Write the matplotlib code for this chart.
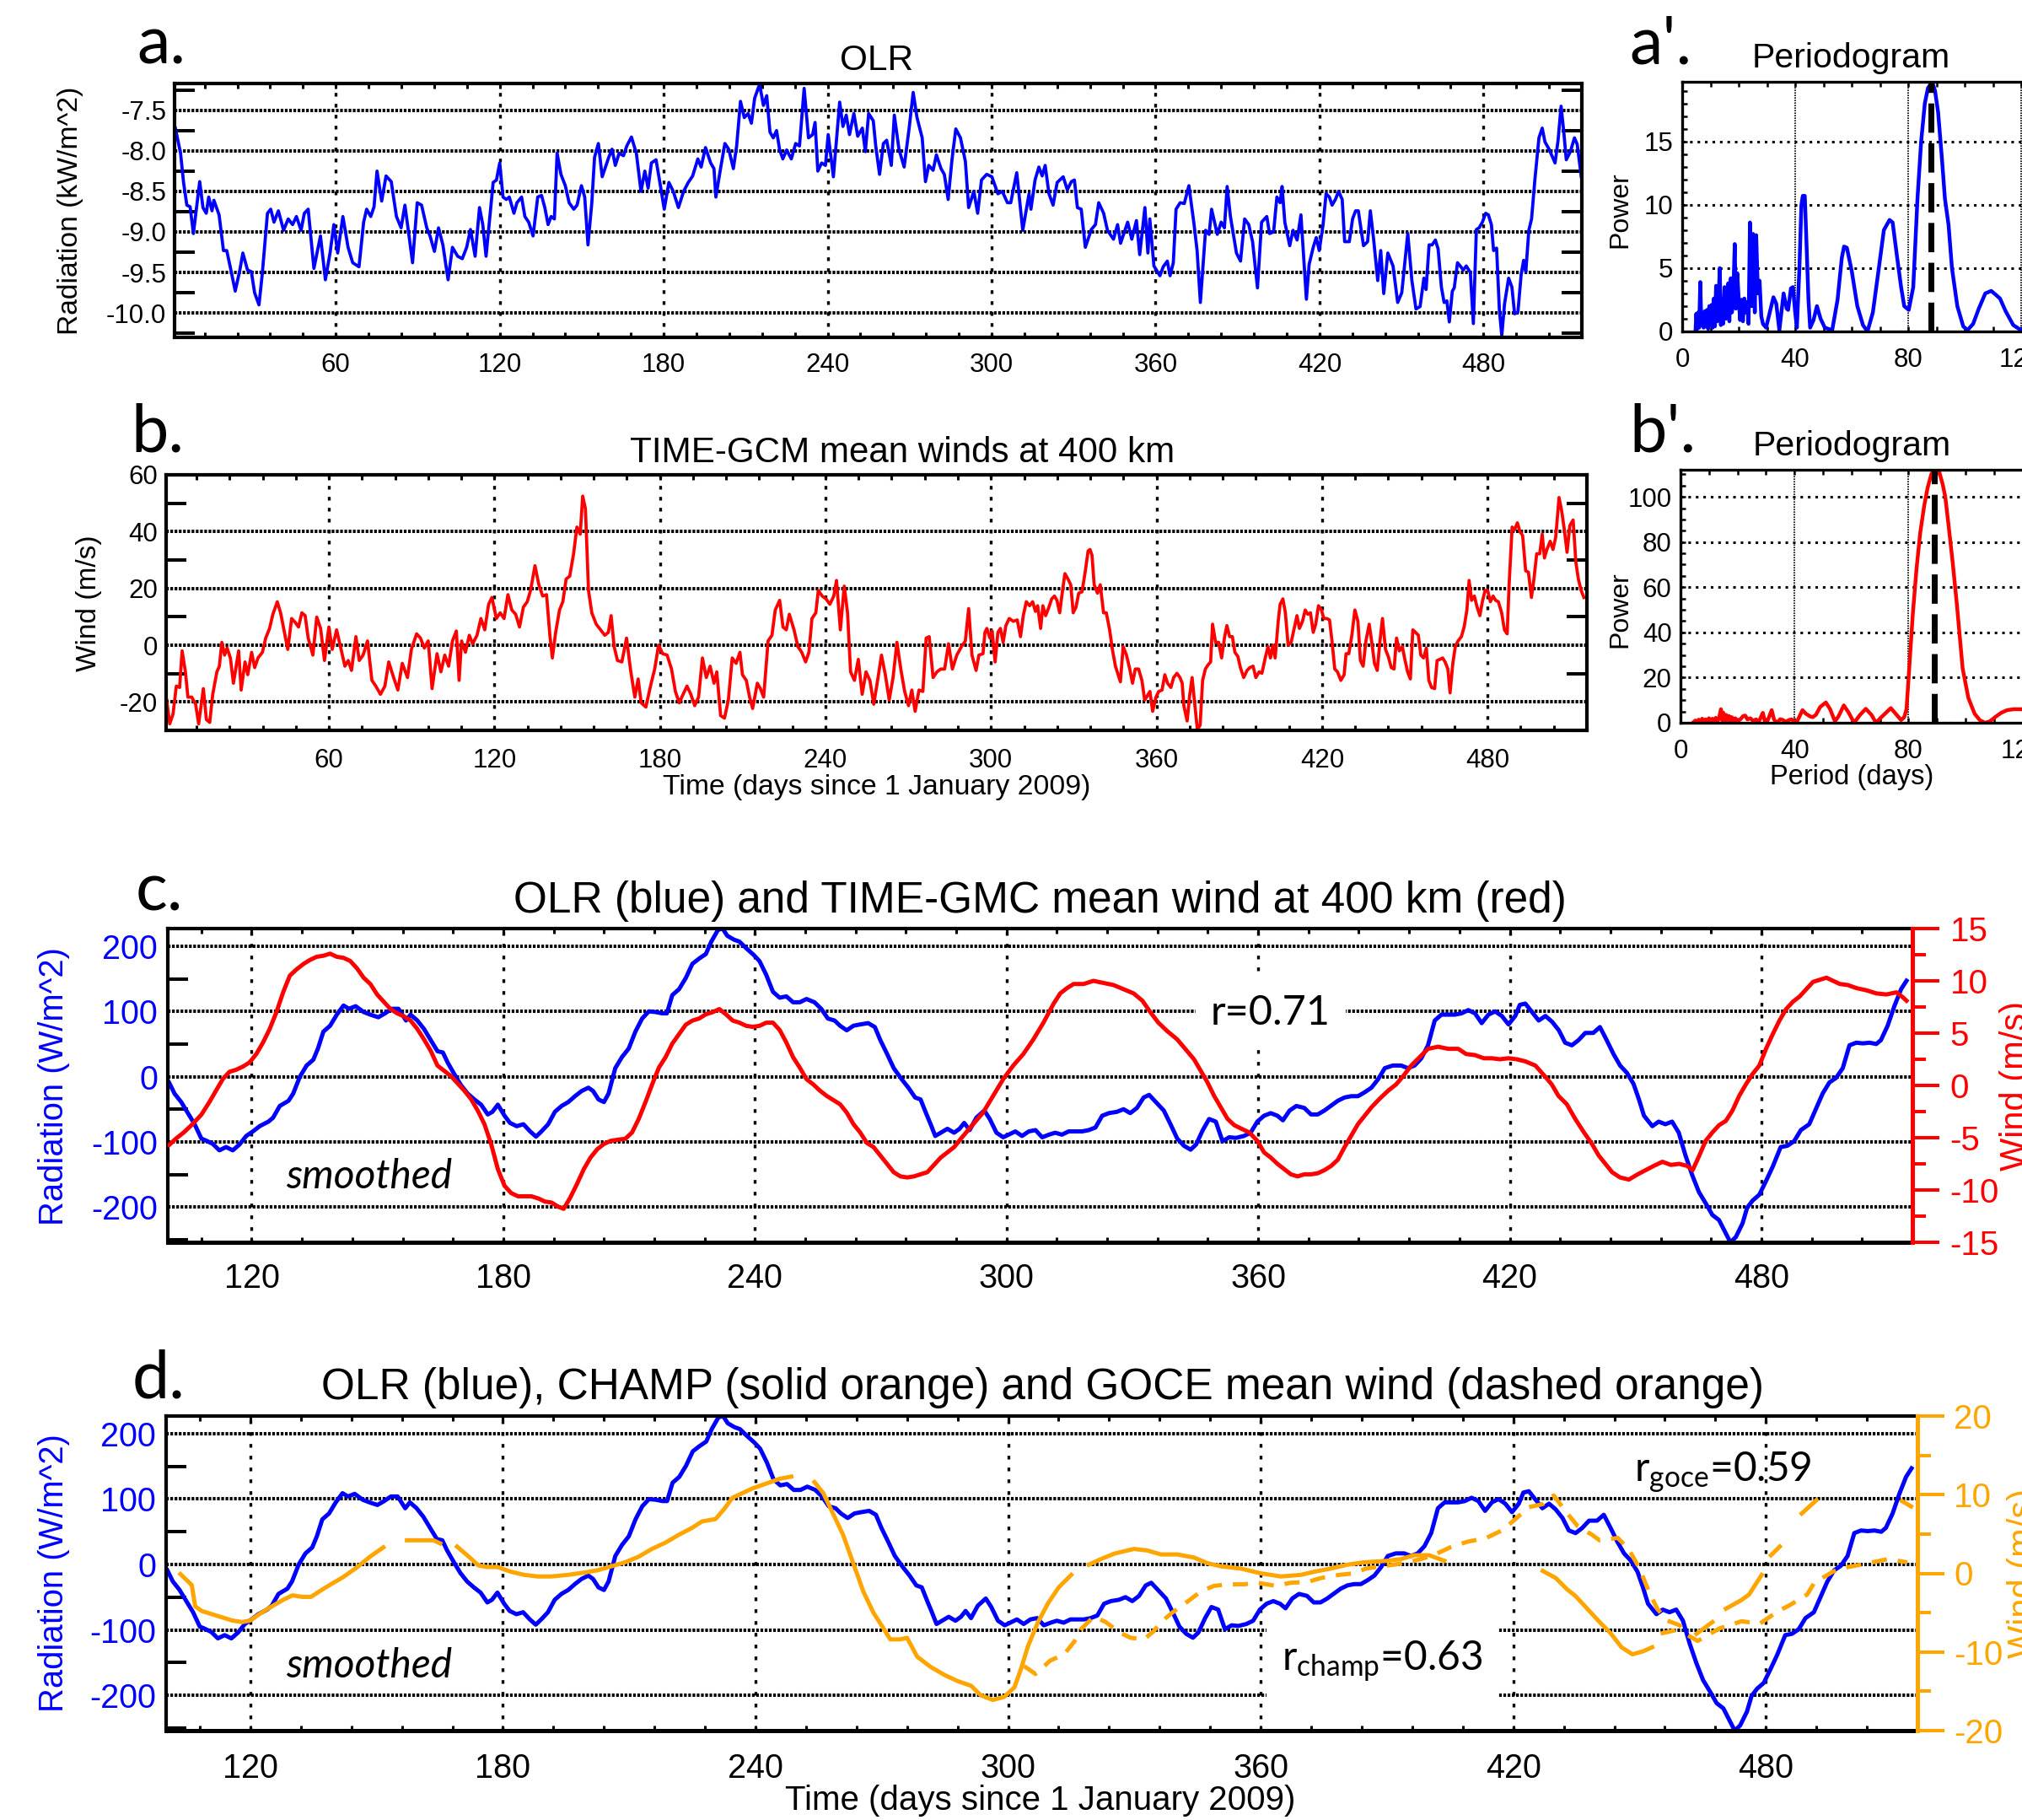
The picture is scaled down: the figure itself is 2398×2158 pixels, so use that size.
import numpy as np
import matplotlib
matplotlib.use("Agg")
import matplotlib.pyplot as plt
from matplotlib.ticker import FixedLocator, MultipleLocator

W, H = 2398, 2158
plt.rcParams['font.family'] = ['Liberation Sans', 'DejaVu Sans']
plt.rcParams['axes.unicode_minus'] = False
plt.rcParams['mathtext.fontset'] = 'custom'
plt.rcParams['mathtext.rm'] = 'Lato'
plt.rcParams['mathtext.it'] = 'Lato:italic'

BLUE, RED, ORANGE = '#0000ff', '#ff0000', '#ffa500'
NAN = np.nan

# ---------------- data ----------------
# a. daily OLR (kW/m^2), (day, value)
olr_daily = [
    (1.3, -7.72), (3.2, -8.03), (4.3, -8.39), (5.5, -8.67), (6.7, -8.69), (7.9, -9.02), (8.8, -8.77),
    (10.2, -8.38), (11.4, -8.70), (12.6, -8.77), (13.5, -8.57), (14.7, -8.74), (15.4, -8.61), (17.3, -8.79),
    (18.9, -9.23), (20.1, -9.23), (21.5, -9.45), (23.2, -9.73), (24.9, -9.47), (26.0, -9.26), (27.7, -9.47),
    (29.1, -9.49), (30.3, -9.75), (31.9, -9.90), (33.1, -9.52), (35.0, -8.77), (36.2, -8.72), (37.4, -8.88),
    (39.0, -8.74), (40.9, -8.98), (42.6, -8.84), (44.2, -8.91), (45.6, -8.81), (47.3, -8.98), (48.5, -8.77),
    (49.9, -8.72), (52.0, -9.45), (54.4, -9.05), (56.2, -9.59), (57.9, -9.26), (59.3, -8.91), (60.7, -9.26),
    (62.6, -8.81), (64.5, -9.19), (66.2, -9.38), (68.5, -9.43), (70.2, -8.88), (71.3, -8.72), (72.8, -8.81),
    (74.0, -8.69), (75.1, -8.25), (76.8, -8.62), (78.4, -8.31), (80.3, -8.38), (82.2, -8.81), (83.9, -8.95),
    (85.3, -8.67), (86.7, -9.02), (88.1, -9.38), (89.8, -8.64), (91.4, -8.67), (93.3, -8.95), (94.5, -9.05),
    (96.1, -9.24), (97.6, -8.95), (99.2, -9.16), (101.1, -9.59), (102.7, -9.19), (104.6, -9.30), (106.3, -9.33),
    (107.9, -9.19), (109.3, -8.97), (111.0, -9.30), (112.6, -8.70), (113.8, -8.91), (115.0, -9.30), (116.4, -8.81),
    (117.6, -8.39), (118.8, -8.36), (120.0, -8.15), (121.2, -8.57), (122.4, -8.60), (123.5, -8.57), (125.2, -8.77),
    (126.3, -8.64), (128.0, -8.57), (129.2, -8.81), (130.6, -8.88), (132.2, -9.05), (133.9, -8.57), (135.3, -8.55),
    (136.5, -8.70), (137.7, -8.91), (138.8, -8.81), (140.0, -8.84), (141.0, -8.03), (142.4, -8.29), (144.0, -8.43),
    (145.4, -8.64), (147.1, -8.72), (148.3, -8.67), (149.9, -8.43), (151.1, -8.57), (152.3, -9.16), (153.7, -8.64),
    (154.7, -8.08), (156.1, -7.91), (157.5, -8.32), (158.7, -8.20), (159.9, -8.08), (161.1, -7.98), (162.3, -8.18),
    (163.7, -8.03), (165.3, -8.06), (166.5, -7.94), (168.2, -7.83), (170.0, -8.03), (171.7, -8.50), (173.1, -8.25),
    (174.3, -8.46), (175.5, -8.15), (177.2, -8.11), (178.8, -8.43), (180.2, -8.72), (181.9, -8.39), (183.5, -8.50),
    (185.4, -8.70), (187.3, -8.50), (189.0, -8.39), (190.6, -8.31), (192.5, -8.10), (193.7, -8.20), (195.3, -7.96),
    (197.2, -8.15), (198.4, -8.22), (199.1, -8.57), (200.8, -8.22), (202.4, -7.91), (203.8, -7.98), (205.5, -8.22),
    (206.7, -7.94), (208.1, -7.39), (209.5, -7.59), (210.9, -7.54), (212.1, -7.66), (213.3, -7.35), (215.1, -7.18),
    (216.5, -7.44), (217.7, -7.32), (218.9, -7.77), (220.1, -7.84), (221.3, -7.75), (222.4, -7.98), (223.6, -8.10),
    (225.0, -7.99), (226.7, -8.10), (228.3, -7.91), (229.7, -7.94), (231.4, -7.23), (233.0, -7.84), (234.5, -7.80),
    (235.4, -7.65), (236.4, -8.25), (237.8, -8.15), (239.2, -8.18), (240.2, -7.80), (242.1, -8.32), (244.4, -7.40),
    (245.6, -7.70), (246.8, -7.56), (248.0, -7.80), (249.6, -7.54), (251.0, -7.82), (252.7, -7.72), (253.8, -8.01),
    (255.0, -7.54), (256.7, -7.63), (257.6, -7.94), (259.0, -8.29), (260.4, -7.91), (261.6, -7.87), (263.3, -8.18),
    (264.4, -7.56), (266.1, -7.98), (268.0, -8.20), (269.9, -7.70), (271.3, -7.28), (272.7, -7.59), (274.6, -7.84),
    (275.8, -8.38), (277.0, -8.18), (278.6, -8.24), (279.8, -8.05), (281.5, -8.22), (282.7, -8.29), (284.1, -8.60),
    (285.5, -8.11), (286.9, -7.73), (288.6, -7.84), (290.4, -8.13), (291.6, -8.70), (293.5, -8.50), (294.9, -8.77),
    (296.3, -8.36), (298.2, -8.29), (300.1, -8.32), (302.3, -8.53), (303.9, -8.50), (305.8, -8.64), (307.0, -8.64),
    (309.2, -8.27), (311.4, -8.98), (313.7, -8.53), (314.4, -8.72), (315.9, -8.36), (317.3, -8.20), (318.5, -8.31),
    (319.6, -8.18), (321.0, -8.53), (322.5, -8.67), (324.0, -8.39), (326.2, -8.32), (327.7, -8.48), (329.2, -8.38),
    (330.3, -8.36), (331.4, -8.70), (332.8, -8.72), (334.3, -9.19), (336.5, -8.97), (338.0, -8.91), (339.2, -8.64),
    (341.0, -8.77), (342.4, -8.98), (344.6, -9.09), (346.1, -8.91), (347.2, -9.14), (349.8, -8.88), (351.3, -9.09),
    (353.0, -8.86), (354.2, -9.28), (356.1, -8.70), (357.2, -9.26), (357.9, -8.84), (359.4, -9.42), (361.6, -9.54),
    (362.8, -9.43), (364.3, -9.36), (365.3, -9.54), (366.5, -9.38), (367.5, -8.72), (369.0, -8.64), (370.5, -8.65),
    (372.2, -8.43), (374.1, -8.91), (375.2, -9.23), (376.4, -9.87), (378.3, -8.98), (379.6, -9.03), (380.5, -8.72),
    (382.6, -9.03), (384.0, -8.88), (385.2, -8.95), (386.2, -8.44), (387.4, -8.81), (389.6, -9.26), (391.1, -9.36),
    (392.6, -8.84), (394.1, -8.91), (395.5, -9.12), (397.3, -9.69), (398.8, -8.88), (400.7, -8.81), (401.7, -9.02),
    (403.2, -9.00), (404.4, -8.57), (405.6, -8.64), (406.3, -8.44), (407.3, -8.88), (409.1, -9.17), (410.3, -8.98),
    (411.8, -9.10), (413.2, -8.79), (415.2, -9.83), (416.2, -9.40), (417.7, -9.19), (418.8, -9.07), (419.9, -9.23),
    (421.3, -8.91), (422.4, -8.53), (423.6, -8.57), (424.6, -8.67), (425.8, -8.60), (427.0, -8.50), (428.3, -8.60),
    (429.2, -9.12), (430.9, -9.12), (432.1, -8.84), (433.2, -8.74), (434.2, -8.74), (436.1, -9.17), (437.6, -9.12),
    (438.6, -8.74), (439.8, -9.09), (441.3, -9.60), (442.4, -9.23), (443.5, -9.76), (445.0, -9.26), (446.9, -9.42),
    (448.6, -9.87), (450.1, -9.75), (452.3, -9.02), (453.8, -9.60), (455.3, -9.95), (456.8, -9.92), (458.2, -9.57),
    (459.0, -9.71), (460.1, -9.16), (461.2, -9.16), (462.4, -9.10), (463.4, -9.21), (464.6, -9.68), (465.6, -9.87),
    (466.6, -9.85), (467.5, -10.11), (468.6, -9.73), (469.3, -9.69), (470.5, -9.38), (471.5, -9.42), (472.6, -9.47),
    (473.7, -9.42), (475.2, -9.50), (476.3, -10.13), (477.4, -8.97), (478.4, -8.95), (479.6, -8.88), (480.8, -8.77),
    (481.8, -8.79), (482.9, -8.91), (483.7, -9.23), (484.8, -9.20), (485.8, -9.95), (486.7, -10.28), (487.7, -9.89),
    (489.2, -9.57), (490.4, -9.68), (491.4, -10.01), (492.6, -9.99), (493.8, -9.52), (494.7, -9.35), (495.5, -9.49),
    (496.6, -8.98), (497.6, -8.84), (498.8, -8.36), (500.3, -7.84), (501.5, -7.72), (502.5, -7.89), (504.0, -7.98),
    (506.2, -8.15), (507.3, -7.87), (508.4, -7.45), (509.4, -7.77), (510.3, -8.11), (511.8, -8.01), (513.3, -7.84),
    (514.3, -7.92), (515.8, -8.32),
]

# b. daily TIME-GCM mean wind at 400 km (m/s)
wind_daily = [
    (1.2, -19.3), (2.3, -27.7), (3.5, -24.3), (4.7, -14.4), (5.9, -14.9), (6.8, -2.0), (8.0, -9.4), (8.9, -18.3),
    (10.3, -18.3), (11.7, -20.8), (12.8, -27.7), (14.5, -15.3), (15.6, -26.2), (16.8, -27.2), (17.9, -17.3),
    (19.4, -9.4), (20.3, -7.4), (21.2, 1.0), (22.2, -3.5), (23.1, -1.0), (24.3, -4.5), (25.4, -13.4), (27.3, -2.0),
    (28.2, -15.8), (29.6, -5.9), (30.6, -10.4), (32.0, -2.5), (33.1, -7.9), (34.3, -4.5), (35.9, -2.5), (37.1, 2.5),
    (38.5, 5.9), (39.7, 10.9), (41.3, 15.3), (42.5, 11.4), (43.7, 5.4), (45.1, -1.5), (46.5, 9.4), (47.9, 7.9),
    (49.0, 6.4), (50.2, 11.4), (51.4, 10.4), (52.5, 2.5), (54.2, -3.5), (55.6, 9.9), (57.0, 5.9), (58.4, -5.4),
    (60.0, 6.4), (61.2, -1.5), (62.8, 5.4), (64.2, -0.5), (65.8, -7.4), (67.0, -5.4), (68.2, -8.9), (69.8, 3.0),
    (71.0, -5.4), (72.4, -3.5), (74.0, 1.5), (75.6, -12.4), (77.0, -14.4), (78.7, -17.3), (80.3, -14.4),
    (81.7, -5.9), (83.3, -10.9), (85.0, -15.8), (86.6, -6.4), (88.5, -11.4), (89.9, -1.5), (91.8, 4.0), (93.2, 2.5),
    (94.6, -1.0), (96.0, 1.5), (97.4, -15.3), (99.2, -3.0), (100.6, -9.4), (102.0, -3.5), (103.4, -7.4),
    (104.8, 1.5), (106.2, 5.0), (107.2, -12.4), (108.1, 1.5), (109.5, -2.5), (110.9, 3.5), (112.1, 0.5),
    (113.7, 3.5), (115.1, 9.4), (116.5, 5.4), (117.9, 14.4), (119.1, 16.8), (120.7, 9.4), (122.1, 11.4),
    (123.5, 9.4), (124.9, 17.8), (126.3, 12.4), (127.7, 10.9), (129.1, 6.4), (130.5, 13.4), (131.9, 15.3),
    (133.1, 19.3), (134.7, 28.0), (136.1, 21.3), (137.5, 17.3), (138.9, 17.8), (140.1, 3.5), (141.0, -4.5),
    (142.2, 4.5), (143.6, 12.4), (144.8, 15.3), (146.0, 23.3), (147.3, 24.3), (148.7, 32.2), (149.9, 41.6),
    (151.1, 39.1), (152.0, 52.5), (153.0, 48.0), (154.1, 19.3), (155.3, 11.4), (156.9, 7.4), (158.5, 5.4),
    (160.0, 3.5), (161.3, 4.5), (162.3, 10.4), (163.4, -0.5), (164.6, -5.4), (166.2, -5.9), (167.9, 2.5),
    (169.3, -8.4), (170.9, -18.3), (172.1, -11.9), (173.2, -20.3), (174.9, -21.8), (176.7, -13.9), (178.1, -8.4),
    (179.5, 0.0), (181.0, -3.0), (182.6, -3.5), (184.2, -8.4), (185.6, -16.3), (187.0, -20.3), (188.4, -17.3),
    (189.8, -14.4), (191.2, -17.3), (192.6, -21.3), (194.0, -18.3), (195.4, -4.5), (196.8, -11.4), (198.2, -7.4),
    (199.6, -13.4), (200.6, -9.4), (202.0, -24.8), (203.4, -25.7), (204.8, -19.3), (206.2, -4.5), (207.6, -6.4),
    (209.0, -2.5), (209.9, -10.4), (211.3, -12.4), (212.5, -18.3), (213.6, -22.3), (215.3, -13.4), (216.4, -15.3),
    (217.6, -18.3), (219.2, 1.5), (220.6, 3.5), (221.8, 12.4), (223.4, 15.8), (224.6, 6.4), (225.8, 5.4),
    (226.9, 10.9), (228.6, 5.4), (230.0, -0.5), (231.4, -2.5), (232.8, -5.9), (234.0, -2.5), (235.1, 9.4),
    (236.5, 11.4), (237.4, 19.3), (238.8, 17.3), (240.2, 16.3), (241.6, 14.4), (243.0, 17.3), (244.0, 22.8),
    (245.4, 5.4), (246.8, 20.8), (248.0, 11.4), (249.1, -9.4), (250.5, -12.4), (251.9, -5.0), (253.3, -17.3),
    (254.7, -9.4), (256.1, -12.4), (257.5, -20.8), (258.9, -12.4), (260.3, -3.5), (261.7, -10.4), (263.1, -19.3),
    (264.5, -11.4), (265.9, 1.0), (267.3, -8.4), (268.7, -16.3), (270.1, -21.3), (271.3, -15.8), (272.5, -23.3),
    (273.9, -15.8), (275.3, -16.3), (276.5, 2.5), (277.6, 3.0), (279.0, -11.4), (280.4, -9.4), (281.8, -8.4),
    (283.2, -8.4), (284.6, 0.5), (286.0, -8.4), (287.6, -3.5), (289.3, -0.5), (290.7, 1.5), (291.9, 12.9),
    (293.1, -3.5), (294.6, -8.9), (295.6, -3.5), (297.1, -3.0), (297.8, 4.5), (298.5, 5.9), (299.6, 2.5),
    (300.4, 5.0), (301.5, -5.9), (302.5, 4.5), (303.4, 5.9), (304.4, 1.0), (305.4, 6.9), (306.6, 9.4), (308.1, 8.4),
    (309.5, 8.9), (310.7, 3.0), (311.7, 10.4), (312.8, 15.3), (314.0, 13.9), (315.1, 15.3), (316.1, 11.9),
    (316.9, 13.9), (318.0, 5.9), (318.8, 13.9), (319.8, 10.4), (321.0, 13.4), (322.0, 16.3), (323.0, 17.3),
    (323.9, 15.8), (324.9, 11.4), (326.0, 19.8), (326.8, 25.2), (327.9, 23.3), (328.9, 21.3), (329.8, 11.4),
    (330.8, 13.4), (331.8, 18.3), (333.0, 18.8), (334.2, 26.2), (335.2, 33.2), (335.9, 33.7), (336.6, 31.7),
    (337.4, 21.3), (338.6, 18.3), (339.6, 21.3), (340.8, 11.4), (341.8, 11.4), (343.0, 5.4), (344.0, -1.5),
    (345.1, -7.4), (346.9, -12.9), (347.9, -0.5), (349.1, -3.5), (350.3, -8.4), (351.3, -13.4), (352.3, -8.4),
    (353.5, -8.4), (354.7, -12.4), (355.7, -19.3), (356.7, -17.8), (357.6, -16.3), (358.6, -23.3), (359.8, -18.3),
    (360.8, -16.3), (362.0, -15.8), (363.0, -10.4), (364.0, -13.4), (365.2, -14.9), (366.2, -11.4), (367.4, -9.9),
    (368.5, -11.4), (369.3, -13.4), (369.9, -21.3), (371.1, -26.7), (372.0, -17.8), (372.9, -11.4), (373.6, -18.3),
    (374.8, -29.7), (375.8, -28.2), (376.7, -12.4), (377.7, -8.4), (378.7, -6.9), (379.6, -5.9), (380.3, 7.4),
    (381.4, 1.0), (382.5, 1.0), (383.6, -4.5), (384.6, 2.5), (385.5, 6.9), (386.5, 3.0), (387.5, 3.0), (388.4, -2.5),
    (389.5, -4.0), (390.4, -7.9), (391.6, -11.4), (392.8, -8.9), (393.8, -7.9), (395.0, -7.4), (396.0, -11.4),
    (397.2, -9.4), (398.2, -9.9), (399.4, -4.5), (400.4, -0.5), (401.3, -4.5), (402.2, 0.0), (403.0, -4.5),
    (404.1, 8.4), (404.8, 14.4), (405.8, 16.3), (406.7, 11.4), (407.7, 0.0), (408.8, 1.0), (409.9, 5.9),
    (410.9, 10.4), (411.8, 5.9), (412.9, 8.4), (413.9, 12.4), (414.8, 10.9), (415.8, 11.4), (416.8, 4.5),
    (417.7, 7.4), (418.7, 13.9), (419.8, 12.4), (420.6, 9.4), (421.7, 9.4), (422.7, 8.9), (423.6, 1.5),
    (424.6, -8.4), (425.6, -9.4), (426.8, -12.4), (428.0, -10.4), (428.7, -3.0), (429.7, -3.0), (430.8, 3.5),
    (431.9, 12.4), (433.0, 8.4), (433.9, -5.4), (434.9, -7.4), (435.9, 1.5), (437.1, 7.4), (438.1, 0.5),
    (439.0, -6.4), (440.0, -8.9), (441.0, 1.5), (441.9, 9.4), (443.0, -1.5), (444.0, -4.0), (445.1, -7.9),
    (446.1, -8.4), (447.0, 2.5), (448.0, -2.0), (449.1, -0.5), (449.9, -4.5), (451.0, -9.4), (452.0, -11.9),
    (452.9, 5.4), (453.9, 4.5), (454.9, 3.5), (455.8, -3.5), (456.8, -4.5), (457.8, -1.0), (458.7, -12.4),
    (459.7, -14.9), (460.8, -15.3), (461.7, -5.4), (462.7, -5.0), (463.7, -4.5), (464.6, -5.9), (465.6, -8.4),
    (466.4, -16.8), (467.4, -6.4), (468.3, -0.5), (469.3, 1.5), (470.5, 3.0), (471.5, 6.4), (472.5, 12.4),
    (473.3, 22.8), (474.2, 15.8), (475.2, 17.3), (476.2, 13.4), (477.2, 10.4), (478.1, 15.3), (479.1, 19.3),
    (480.0, 19.3), (481.0, 15.3), (482.0, 17.3), (482.9, 15.8), (483.9, 15.3), (485.1, 11.4), (486.1, 5.4),
    (487.1, 4.0), (487.8, 21.3), (488.9, 41.6), (489.8, 40.6), (490.8, 43.1), (491.7, 40.1), (492.7, 38.6),
    (493.8, 26.2), (494.8, 25.7), (495.9, 16.8), (496.8, 23.3), (497.8, 32.2), (498.9, 32.2), (499.8, 39.1),
    (500.6, 30.7), (501.5, 33.7), (502.7, 36.6), (503.7, 33.7), (504.7, 38.1), (505.9, 52.0), (506.9, 47.0),
    (507.9, 40.1), (508.8, 32.7), (509.8, 42.1), (511.0, 44.1), (512.0, 29.2), (512.9, 23.3), (513.9, 19.3),
    (514.9, 16.8),
]

# a'. periodogram of OLR, (period in days, power)
olr_periodogram = [
    (4.7, 0.0), (5.0, 1.4), (5.3, 0.2), (5.7, 1.5), (6.0, 0.3), (6.4, 3.9), (6.8, 0.5), (7.2, 1.2), (7.6, 0.3),
    (8.0, 1.6), (8.4, 0.4), (8.8, 1.7), (9.2, 0.2), (9.6, 2.0), (10.0, 0.5), (10.4, 2.1), (10.8, 0.3), (11.2, 2.6),
    (11.6, 0.4), (12.0, 3.6), (12.4, 0.8), (12.8, 2.0), (13.3, 5.0), (13.7, 0.5), (14.1, 2.5), (14.5, 0.6),
    (15.0, 3.5), (15.4, 1.0), (15.8, 2.2), (16.3, 3.8), (16.7, 0.8), (17.2, 4.2), (17.6, 1.5), (18.1, 3.0),
    (18.6, 6.9), (19.0, 1.8), (19.5, 4.6), (20.0, 2.6), (20.5, 0.9), (21.0, 2.5), (21.5, 0.8), (22.0, 2.6),
    (22.5, 1.5), (23.0, 2.3), (23.5, 0.6), (24.0, 8.6), (24.6, 2.0), (25.1, 7.7), (25.7, 1.5), (26.2, 7.6),
    (26.8, 3.0), (27.4, 4.0), (28.0, 1.2), (28.6, 0.6), (29.7, 0.3), (31.0, 1.5), (32.3, 2.7), (33.3, 2.2),
    (34.4, 0.1), (35.9, 3.0), (37.0, 1.8), (37.5, 1.7), (38.5, 3.4), (39.2, 3.5), (40.0, 1.5), (40.6, 0.3),
    (41.5, 5.0), (42.2, 10.0), (42.7, 10.7), (43.4, 10.7), (44.0, 7.0), (44.7, 2.5), (45.3, 0.3), (46.5, 0.9),
    (47.7, 2.0), (49.0, 1.0), (50.5, 0.3), (53.1, 0.1), (55.0, 2.5), (56.5, 5.8), (57.3, 6.7), (58.3, 6.6),
    (60.0, 4.8), (62.0, 2.0), (64.0, 0.5), (65.6, 0.0), (67.5, 1.5), (69.5, 4.8), (71.4, 8.0), (73.4, 8.8),
    (74.5, 8.6), (76.0, 6.0), (77.5, 3.5), (78.6, 2.0), (80.2, 1.7), (81.8, 3.5), (83.3, 10.5), (84.6, 15.0),
    (85.9, 18.0), (87.0, 19.2), (88.5, 19.7), (89.5, 19.0), (90.6, 17.3), (92.0, 13.5), (93.0, 10.5), (94.3, 8.4),
    (95.5, 5.0), (97.4, 2.0), (99.5, 0.4), (101.0, 0.1), (103.0, 0.6), (105.0, 1.8), (107.3, 3.0), (109.4, 3.2),
    (111.0, 2.9), (112.5, 2.6), (114.5, 1.6), (117.2, 0.5), (120.0, 0.1), (123.0, 0.3),
]
olr_peak_period = 88

# b'. periodogram of wind
wind_periodogram = [
    (4.6, 0.3), (5.2, 1.0), (5.8, 0.2), (6.4, 1.4), (7.0, 0.4), (7.6, 1.8), (8.2, 0.5), (8.8, 1.5), (9.4, 0.3),
    (10.0, 2.0), (10.6, 0.6), (11.2, 1.8), (11.8, 0.8), (12.4, 2.2), (13.0, 0.5), (13.6, 2.5), (14.2, 6.0),
    (14.6, 1.0), (15.0, 4.5), (15.5, 0.8), (16.0, 3.5), (16.5, 1.2), (17.0, 3.0), (17.5, 0.6), (18.0, 2.5),
    (18.6, 0.8), (19.2, 2.0), (20.0, 0.6), (21.0, 1.5), (22.0, 3.0), (22.7, 3.2), (23.5, 1.5), (24.5, 2.0),
    (25.5, 0.8), (26.5, 1.5), (27.5, 0.5), (28.2, 2.5), (28.9, 4.4), (29.6, 0.5), (30.5, 0.8), (31.2, 3.0),
    (32.0, 5.6), (32.8, 1.5), (33.5, 0.3), (34.0, 0.2), (35.0, 1.6), (36.0, 1.2), (37.0, 0.4), (38.0, 1.2),
    (39.0, 1.5), (40.0, 0.5), (41.0, 0.8), (42.0, 3.5), (42.8, 5.6), (44.0, 4.0), (45.5, 2.8), (46.4, 2.5),
    (47.5, 3.5), (49.0, 7.0), (51.0, 9.0), (52.5, 6.0), (54.2, 0.6), (55.5, 3.0), (57.3, 7.7), (59.0, 4.5),
    (60.9, 0.0), (63.0, 3.5), (65.0, 6.2), (67.0, 3.5), (68.6, 0.0), (70.5, 2.5), (73.8, 6.5), (75.5, 4.0),
    (77.4, 1.2), (78.5, 2.5), (79.3, 6.0), (80.3, 25.0), (81.5, 48.0), (82.8, 68.0), (84.1, 84.0), (85.5, 96.0),
    (86.7, 104.0), (88.0, 110.0), (88.8, 112.0), (90.0, 112.0), (90.8, 111.0), (92.0, 105.5), (92.9, 100.0),
    (94.0, 88.0), (95.5, 71.0), (97.0, 52.0), (99.0, 24.0), (101.0, 11.0), (103.2, 4.0), (105.0, 1.2),
    (106.8, 0.0), (108.5, 0.6), (110.4, 2.5), (112.5, 4.4), (114.6, 5.6), (117.0, 6.0), (119.5, 6.0), (123.0, 5.5),
]
wind_peak_period = 89

# c./d. smoothed OLR (W/m^2)
olr_smooth = [
    (100.3, -9), (101.6, -26), (103.2, -39), (104.8, -56), (106.4, -73), (108.0, -95), (109.1, -98),
    (110.7, -103), (112.3, -113), (113.9, -108), (115.5, -113), (117.1, -104), (118.7, -91), (120.3, -84),
    (121.9, -76), (124.0, -69), (125.1, -63), (126.7, -45), (128.8, -37), (129.9, -26), (131.5, 0), (133.1, 17),
    (134.7, 26), (135.8, 43), (137.1, 69), (138.7, 78), (140.3, 95), (141.9, 109), (143.2, 104), (144.8, 108),
    (146.7, 99), (148.3, 95), (150.2, 91), (151.8, 97), (153.4, 104), (155.0, 104), (156.8, 86), (157.9, 95),
    (159.5, 86), (161.1, 73), (162.7, 56), (164.3, 39), (165.6, 37), (166.7, 22), (168.3, 4), (169.9, -13),
    (171.5, -26), (173.1, -35), (174.7, -43), (176.3, -58), (177.4, -54), (178.7, -43), (180.3, -60),
    (181.6, -71), (183.2, -76), (184.8, -73), (186.4, -84), (187.8, -92), (189.1, -84), (190.7, -73),
    (192.3, -54), (193.9, -45), (195.5, -39), (197.1, -30), (198.7, -22), (200.3, -17), (201.4, -22),
    (202.7, -35), (204.0, -39), (205.1, -26), (206.7, 13), (208.3, 30), (209.9, 43), (211.5, 69), (213.1, 89),
    (214.7, 100), (216.3, 99), (217.9, 97), (219.0, 97), (220.3, 125), (221.9, 134), (223.5, 151), (225.1, 173),
    (226.7, 181), (228.3, 188), (229.6, 207), (231.2, 225), (232.3, 227), (233.4, 216), (235.0, 210),
    (236.3, 207), (237.9, 197), (239.8, 186), (241.1, 177), (242.7, 156), (244.3, 130), (245.9, 121),
    (247.5, 123), (249.1, 114), (250.7, 114), (252.3, 119), (254.2, 114), (255.8, 104), (257.4, 89), (259.0, 86),
    (260.3, 78), (261.9, 71), (263.5, 78), (265.1, 80), (267.0, 82), (268.6, 76), (269.9, 56), (271.5, 35),
    (273.1, 13), (275.0, -4), (276.6, -17), (278.2, -32), (279.5, -35), (280.8, -56), (281.9, -73), (283.0, -91),
    (284.3, -86), (285.9, -80), (287.5, -86), (288.8, -80), (289.9, -71), (291.2, -82), (292.8, -63),
    (294.7, -52), (296.0, -65), (297.6, -86), (299.2, -93), (300.5, -89), (302.1, -84), (303.7, -91),
    (305.3, -84), (306.9, -82), (308.5, -93), (310.1, -89), (311.6, -86), (313.2, -89), (314.8, -84),
    (316.4, -84), (318.0, -84), (319.6, -82), (321.2, -78), (322.8, -60), (324.4, -56), (326.3, -54),
    (327.9, -50), (329.5, -56), (331.1, -48), (332.7, -32), (334.0, -28), (335.6, -39), (337.5, -52),
    (339.1, -73), (340.7, -95), (342.3, -106), (343.9, -112), (345.2, -104), (346.8, -82), (348.3, -65),
    (349.9, -69), (351.5, -99), (353.1, -93), (354.7, -94), (356.6, -91), (358.2, -86), (359.8, -69),
    (361.4, -60), (363.0, -56), (364.6, -60), (365.9, -67), (367.5, -52), (369.1, -45), (371.0, -48),
    (372.6, -58), (374.2, -58), (375.8, -52), (377.7, -43), (379.0, -37), (380.6, -32), (382.2, -30),
    (383.8, -30), (385.4, -24), (387.0, -17), (388.6, -4), (390.2, 13), (392.1, 17), (394.1, 17), (395.7, 13),
    (397.3, 17), (398.9, 28), (400.5, 48), (402.1, 86), (403.7, 95), (405.3, 95), (406.9, 95), (408.5, 97),
    (410.1, 102), (411.7, 97), (413.3, 82), (414.9, 95), (416.5, 100), (418.1, 93), (419.7, 80), (421.3, 93),
    (422.4, 110), (423.7, 112), (425.3, 99), (426.9, 86), (428.5, 93), (430.1, 84), (431.7, 71), (433.2, 52),
    (434.8, 48), (436.4, 56), (438.0, 67), (439.9, 67), (441.5, 76), (443.1, 56), (444.7, 35), (446.3, 17),
    (447.9, 6), (449.5, -11), (450.8, -35), (452.0, -60), (454.0, -76), (455.5, -69), (457.1, -73), (458.7, -69),
    (460.3, -86), (461.9, -121), (463.5, -151), (465.1, -177), (466.7, -194), (468.3, -212), (469.9, -220),
    (471.1, -235), (472.6, -254), (473.9, -246), (475.5, -225), (476.6, -201), (477.9, -190), (479.5, -181),
    (481.1, -160), (482.7, -138), (484.6, -108), (486.2, -106), (487.8, -99), (489.4, -82), (491.4, -73),
    (493.1, -48), (494.6, -26), (496.2, -9), (497.8, -2), (499.4, 13), (501.0, 48), (502.6, 52), (504.2, 51),
    (505.8, 52), (507.4, 50), (508.5, 56), (510.1, 78), (511.7, 108), (513.3, 134), (514.6, 147),
]

# c. smoothed TIME-GCM wind (m/s)
gcm_smooth = [
    (100.3, -5.7), (101.9, -5.1), (103.8, -4.5), (105.9, -3.7), (108.0, -2.8), (109.9, -1.6), (111.5, -0.5),
    (113.1, 0.6), (114.7, 1.3), (116.3, 1.5), (117.9, 1.8), (119.5, 2.2), (121.1, 3.0), (122.7, 4.1), (124.3, 5.4),
    (125.9, 7.0), (127.5, 8.9), (129.1, 10.5), (130.7, 11.1), (132.3, 11.6), (133.9, 12.0), (135.5, 12.3),
    (137.1, 12.4), (138.7, 12.6), (140.3, 12.3), (141.9, 12.2), (143.5, 11.9), (145.1, 11.2), (146.7, 10.3),
    (148.3, 9.7), (149.9, 8.7), (151.5, 8.0), (153.1, 7.3), (154.7, 6.9), (156.3, 6.6), (157.9, 6.2), (159.5, 5.4),
    (161.1, 4.4), (162.7, 3.3), (164.3, 1.9), (165.9, 1.4), (167.5, 0.9), (169.1, 0.2), (170.7, -0.5),
    (172.3, -1.3), (173.9, -2.4), (175.5, -3.7), (177.1, -5.6), (178.7, -8.0), (180.3, -9.6), (181.9, -10.3),
    (183.5, -10.6), (185.1, -10.6), (186.7, -10.6), (188.3, -10.8), (189.9, -11.1), (191.5, -11.2),
    (193.1, -11.6), (194.4, -11.8), (196.0, -10.7), (197.6, -9.4), (199.2, -8.0), (200.8, -6.9), (202.4, -6.1),
    (204.0, -5.6), (205.6, -5.3), (207.2, -5.2), (209.1, -5.1), (210.7, -4.5), (212.3, -3.2), (213.9, -1.6),
    (215.5, 0.1), (217.1, 1.7), (218.7, 2.7), (220.3, 4.0), (221.9, 4.9), (223.5, 5.8), (225.1, 6.2), (226.7, 6.4),
    (228.3, 6.8), (229.9, 7.0), (231.5, 7.3), (233.1, 6.8), (234.7, 6.2), (236.3, 6.0), (237.9, 5.7), (239.5, 5.6),
    (241.1, 5.7), (242.7, 6.0), (244.3, 6.0), (245.9, 5.3), (247.5, 4.1), (249.1, 2.7), (250.7, 1.7), (252.3, 0.6),
    (253.9, 0.1), (255.5, -0.5), (257.1, -1.0), (258.7, -1.4), (260.3, -1.8), (261.9, -2.6), (263.5, -3.7),
    (265.1, -4.5), (266.7, -5.5), (268.3, -5.9), (269.9, -6.7), (271.5, -7.5), (273.1, -8.3), (274.7, -8.7),
    (276.3, -8.8), (277.9, -8.7), (279.5, -8.5), (281.1, -8.3), (282.7, -7.6), (284.3, -6.9), (285.9, -6.4),
    (287.5, -5.9), (289.1, -5.1), (291.2, -4.1), (294.4, -2.6), (296.8, -1.0), (299.2, 0.6), (301.6, 1.9),
    (304.0, 3.0), (306.4, 4.4), (308.8, 6.0), (311.2, 7.8), (312.8, 8.8), (314.4, 9.3), (316.0, 9.7), (318.4, 9.7),
    (320.7, 10.0), (323.1, 9.8), (325.5, 9.6), (327.9, 9.2), (330.3, 8.8), (332.4, 8.1), (334.3, 7.0), (336.2, 6.0),
    (338.3, 5.2), (340.7, 4.4), (342.6, 3.5), (344.7, 2.5), (346.3, 1.4), (347.9, 0.3), (349.5, -1.0),
    (351.1, -2.1), (352.7, -3.2), (354.3, -3.8), (355.8, -4.1), (357.9, -4.5), (359.8, -5.3), (361.4, -6.4),
    (363.0, -6.9), (364.6, -7.5), (366.2, -8.0), (367.8, -8.5), (369.4, -8.7), (371.0, -8.5), (372.6, -8.5),
    (374.2, -8.4), (375.8, -8.1), (377.4, -7.7), (379.0, -7.1), (380.6, -5.9), (382.2, -4.8), (383.8, -3.7),
    (385.4, -2.9), (387.0, -2.1), (388.9, -1.3), (391.0, -0.5), (392.9, 0.1), (394.6, 0.9), (396.5, 1.9),
    (398.5, 2.7), (400.5, 3.5), (402.9, 3.7), (405.3, 3.5), (407.7, 3.5), (409.6, 3.0), (411.7, 2.9), (413.8, 2.6),
    (415.7, 2.6), (417.6, 2.5), (419.7, 2.6), (421.7, 2.5), (423.7, 2.3), (426.1, 1.9), (428.1, 1.0), (430.0, 0.1),
    (431.6, -1.0), (433.6, -1.8), (435.6, -3.2), (437.7, -4.5), (439.6, -5.6), (441.2, -6.7), (442.8, -7.5),
    (444.4, -8.3), (446.3, -8.8), (448.4, -9.0), (450.5, -8.5), (452.4, -8.1), (454.3, -7.7), (456.4, -7.3),
    (458.4, -7.6), (460.4, -7.5), (462.3, -7.7), (463.6, -8.1), (465.2, -6.7), (466.7, -5.3), (468.3, -4.5),
    (469.9, -3.8), (471.5, -3.4), (473.1, -2.4), (474.7, -1.0), (476.3, 0.1), (477.9, 1.1), (479.5, 1.9),
    (481.1, 3.5), (482.7, 4.9), (484.3, 6.2), (485.9, 7.3), (487.5, 8.0), (489.1, 8.5), (490.7, 9.2), (492.3, 9.9),
    (493.9, 10.1), (495.5, 10.3), (497.1, 10.0), (498.7, 9.7), (500.6, 9.6), (502.7, 9.3), (505.0, 9.1),
    (507.4, 8.8), (509.8, 8.7), (512.2, 8.9), (513.8, 8.4), (514.6, 8.1),
]

# d. CHAMP mean wind (solid, with data gaps) and GOCE mean wind (dashed), m/s
champ_wind = [
    (103.4, -0.1), (106.1, -1.5), (106.9, -4.2), (108.5, -4.8), (110.9, -5.2), (113.3, -5.6), (115.7, -6.0),
    (118.1, -6.2), (120.0, -6.0), (122.1, -5.2), (124.5, -4.4), (127.7, -3.4), (130.0, -2.8), (132.4, -3.0),
    (134.4, -3.0), (136.4, -2.3), (138.8, -1.5), (142.0, -0.5), (145.2, 0.7), (148.4, 2.1), (151.6, 3.3),
    (154.0, NAN), (157.2, 4.2), (160.4, 4.2), (163.5, 4.2), (165.1, 3.8), (167.0, NAN), (169.1, 3.4), (171.5, 2.3),
    (174.2, 1.0), (176.3, 0.8), (178.7, 0.8), (181.9, 0.2), (185.1, -0.2), (188.3, -0.4), (191.5, -0.4),
    (195.4, -0.2), (199.4, 0.1), (202.6, 0.4), (205.8, 0.9), (209.0, 1.4), (212.2, 2.1), (215.4, 3.1),
    (218.6, 3.9), (221.8, 4.9), (225.0, 5.8), (227.3, 6.6), (230.5, 6.9), (232.6, 8.2), (234.5, 9.6),
    (236.9, 10.2), (239.3, 10.8), (242.5, 11.4), (245.6, 12.0), (248.5, 12.3), (251.0, NAN), (254.0, 11.6),
    (256.1, 10.2), (258.4, 7.6), (260.8, 4.9), (263.2, 1.3), (265.6, -2.3), (268.0, -5.0), (270.4, -7.0),
    (272.0, -8.4), (274.4, -8.4), (276.0, -8.2), (278.4, -10.6), (281.6, -11.9), (284.8, -12.9), (288.0, -13.7),
    (291.2, -14.3), (293.5, -15.5), (296.4, -16.1), (299.1, -15.7), (301.5, -14.5), (303.1, -12.1),
    (304.7, -9.3), (307.1, -6.2), (309.5, -3.8), (312.0, -1.8), (315.0, -0.2), (317.0, NAN), (319.2, 1.1),
    (322.0, 1.8), (325.2, 2.5), (329.9, 3.1), (333.1, 2.9), (336.3, 2.4), (340.2, 2.4), (344.2, 2.0),
    (347.3, 1.3), (350.5, 0.9), (355.3, 0.6), (360.0, 0.0), (364.8, -0.4), (369.5, -0.2), (372.7, 0.2),
    (376.6, 0.6), (380.6, 1.1), (384.6, 1.4), (387.7, 1.5), (390.1, 1.6), (393.3, 1.8), (396.4, 2.3),
    (400.0, 2.3), (403.6, 1.6), (415.0, NAN), (427.0, 0.3), (430.1, -0.6), (432.7, -2.0), (434.8, -2.9),
    (437.9, -4.7), (440.5, -6.2), (443.1, -7.6), (445.7, -9.4), (448.3, -10.3), (450.9, -9.9), (453.0, -9.4),
    (454.3, NAN), (455.5, -7.6), (458.0, -7.3), (460.5, NAN), (463.5, -7.7), (467.3, -6.2), (469.0, NAN),
    (470.5, -4.5), (474.2, -3.4), (476.0, -2.7), (479.0, -0.2), (480.2, NAN), (481.2, 2.3), (483.3, 3.4),
    (486.0, NAN), (488.5, 7.6), (492.0, 9.3), (500.0, NAN), (512.3, 9.2), (514.5, 8.5),
]
goce_wind = [
    (303.8, -11.8), (306.5, -12.8), (310.0, -11.1), (313.3, -10.3), (315.7, -8.7), (317.3, -7.1), (320.4, -5.5),
    (323.2, -6.2), (326.4, -7.5), (329.1, -8.2), (332.3, -8.4), (334.5, -7.4), (336.3, -6.2), (339.0, -5.0),
    (342.6, -3.6), (345.8, -2.3), (348.9, -1.6), (352.1, -1.4), (356.0, -1.4), (359.2, -1.2), (363.6, -1.6),
    (367.1, -1.2), (371.1, -1.1), (374.3, -0.6), (378.6, -0.2), (382.2, 0.0), (385.0, 0.6), (388.5, 0.9),
    (391.7, 1.1), (394.9, 1.4), (398.0, 1.8), (401.0, 2.3), (405.0, 3.3), (409.0, 4.0), (413.6, 4.5),
    (417.1, 5.4), (420.1, 6.7), (423.6, 8.4), (427.0, 8.8), (429.6, 9.9), (432.7, 7.7), (435.3, 6.0),
    (438.7, 4.9), (440.5, 4.2), (444.8, 4.5), (447.4, 3.1), (450.0, 0.6), (452.2, -2.3), (454.2, -4.5),
    (456.5, -6.0), (459.5, -6.6), (461.5, -7.9), (463.8, -8.6), (469.0, -7.0), (474.2, -6.1), (478.6, -6.4),
    (482.9, -4.8), (485.5, -4.1), (489.8, -2.7), (491.5, -1.2), (495.9, 0.2), (497.6, 0.6), (504.5, 1.3),
    (508.9, 1.8), (513.6, 1.4),
]

ab_day_ticks = [60, 120, 180, 240, 300, 360, 420, 480]
cd_day_ticks = [120, 180, 240, 300, 360, 420, 480]
olr_ticks = [-10.0, -9.5, -9.0, -8.5, -8.0, -7.5]
olr_offsets = [-10.25, -9.75, -9.25, -8.75, -8.25, -7.75, -7.25]
wind_ticks = [-20, 0, 20, 40, 60]
wind_offsets = [-30, -10, 10, 30, 50]
rad_ticks = [-200, -100, 0, 100, 200]
rad_offsets = [-250, -150, -50, 50, 150]


def xy(pairs):
    a = np.array(pairs, dtype=float)
    return a[:, 0], a[:, 1]


def box(l, t, r, b):
    return [l / W, 1 - b / H, (r - l) / W, (b - t) / H]


fig = plt.figure(figsize=(W / 100, H / 100), dpi=100)


def put(x, y, s, **kw):
    fig.text(x / W, 1 - y / H, s, **kw)


def frame(ax, lw=3.0):
    for sp in ax.spines.values():
        sp.set_linewidth(lw)


def time_x(ax, majors, pad, size):
    ax.set_xticks(majors)
    ax.xaxis.set_minor_locator(MultipleLocator(12))
    ax.tick_params(axis='x', which='both', direction='in', top=True, bottom=True,
                   length=4.5, width=2.2, labelsize=size, pad=pad)


def offset_y(ax, majors, labels, offsets, size, pad, color='k'):
    ax.set_yticks(majors)
    ax.set_yticklabels(labels)
    ax.yaxis.set_minor_locator(FixedLocator(offsets))
    ax.tick_params(axis='y', which='major', length=0, labelsize=size, pad=pad, labelcolor=color)
    ax.tick_params(axis='y', which='minor', direction='in', left=True, right=True,
                   length=17, width=2.9)


def ts_grid(ax, vgap=2.6):
    ax.yaxis.grid(True, which='major', color='k', lw=2.9, ls=(0, (0.8, 0.45)))
    ax.xaxis.grid(True, which='major', color='k', lw=2.4, ls=(0, (1.3, vgap)))
    ax.set_axisbelow(True)


def periodogram_axes(ax, ymax, ystep, yminor):
    ax.set_xlim(0, 125)
    ax.set_ylim(0, ymax)
    ax.set_xticks([0, 40, 80, 120])
    ax.xaxis.set_minor_locator(MultipleLocator(10))
    ax.set_yticks(np.arange(0, ymax, ystep))
    ax.yaxis.set_minor_locator(MultipleLocator(yminor))
    ax.tick_params(which='both', direction='in', top=True, bottom=True, left=True, right=True,
                   length=4.5, width=1.8, labelsize=22.5)
    ax.tick_params(axis='x', which='major', pad=14)
    ax.tick_params(axis='y', which='major', pad=7.5)
    ax.yaxis.grid(True, color='k', lw=2.2, ls=(0, (1.0, 1.9)))
    ax.xaxis.grid(True, color='k', lw=1.2, ls=(0, (1.0, 0.8)))
    ax.set_axisbelow(True)
    frame(ax, 2.4)


# ---------------- a. ----------------
ax = fig.add_axes(box(207, 99, 1876, 400))
d, v = xy(olr_daily)
ax.plot(d, v, color=BLUE, lw=2.7)
ax.set_xlim(1, 516)
ax.set_ylim(-10.3, -7.17)
time_x(ax, ab_day_ticks, 13, 22.5)
offset_y(ax, olr_ticks, ['%.1f' % t for t in olr_ticks], olr_offsets, 22.5, 7)
ts_grid(ax)
frame(ax)

# ---------------- a'. ----------------
ax = fig.add_axes(box(1995, 97, 1995 + 3.35 * 125, 393))
p, pw = xy(olr_periodogram)
ax.plot(p, pw, color=BLUE, lw=3.2)
ax.axvline(olr_peak_period, color='k', lw=5, ls=(0, (5, 1.8)), zorder=3)
periodogram_axes(ax, 19.7, 5, 1)

# ---------------- b. ----------------
ax = fig.add_axes(box(197, 563, 1882, 866))
d, v = xy(wind_daily)
ax.plot(d, v, color=RED, lw=2.7)
ax.set_xlim(1, 516)
ax.set_ylim(-30, 60)
time_x(ax, ab_day_ticks, 15, 22.5)
offset_y(ax, wind_ticks, [str(t) for t in wind_ticks], wind_offsets, 22.5, 7)
ts_grid(ax)
frame(ax)

# ---------------- b'. ----------------
ax = fig.add_axes(box(1993, 557, 1993 + 3.38 * 125, 857))
p, pw = xy(wind_periodogram)
ax.plot(p, pw, color=RED, lw=3.2)
ax.axvline(wind_peak_period, color='k', lw=5, ls=(0, (5, 1.8)), zorder=3)
periodogram_axes(ax, 112, 20, 5)

# ---------------- c. ----------------
ax = fig.add_axes(box(199, 1101, 2268, 1473))
d, v = xy(olr_smooth)
ax.plot(d, v, color=BLUE, lw=3.6, zorder=2)
ax.set_xlim(100, 516)
ax.set_ylim(-254, 227)
time_x(ax, cd_day_ticks, 17, 28.5)
offset_y(ax, rad_ticks, [str(t) for t in rad_ticks], rad_offsets, 28.5, 8.6, color=BLUE)
ts_grid(ax, vgap=2.9)
frame(ax)
ax.spines['bottom'].set_linewidth(3.6)
ax.spines['right'].set_visible(False)
ax.text(1436 / W, 1 - 1215 / H, 'r=0.71', transform=fig.transFigure, fontsize=35,
        family='Lato', va='baseline', ha='left', zorder=1,
        bbox=dict(fc='white', ec='none', pad=13))
tw = ax.twinx()
d, v = xy(gcm_smooth)
tw.plot(d, v, color=RED, lw=3.6)
tw.set_ylim(-15, 15)
tw.set_yticks([-15, -10, -5, 0, 5, 10, 15])
tw.yaxis.set_minor_locator(FixedLocator([-12.5, -7.5, -2.5, 2.5, 7.5, 12.5]))
tw.tick_params(axis='y', which='major', direction='out', length=23, width=2.9, colors=RED,
               labelsize=29, pad=9)
tw.tick_params(axis='y', which='minor', direction='out', length=11.5, width=2.9, colors=RED)
for s in ['left', 'top', 'bottom']:
    tw.spines[s].set_visible(False)
tw.spines['right'].set_color(RED)
tw.spines['right'].set_linewidth(3.6)

# ---------------- d. ----------------
ax = fig.add_axes(box(197, 1679, 2274, 2052))
d, v = xy(olr_smooth)
ax.plot(d, v, color=BLUE, lw=3.6, zorder=2)
ax.set_xlim(100, 516)
ax.set_ylim(-254, 227)
time_x(ax, cd_day_ticks, 18.7, 28.5)
offset_y(ax, rad_ticks, [str(t) for t in rad_ticks], rad_offsets, 28.5, 8.6, color=BLUE)
ts_grid(ax, vgap=2.9)
frame(ax)
ax.spines['bottom'].set_linewidth(3.6)
ax.spines['right'].set_visible(False)
ax.text(1520 / W, 1 - 1980 / H, r'r$_{\rm champ}$=0.63', transform=fig.transFigure, fontsize=34.5,
        family='Lato', va='baseline', ha='left', zorder=1,
        bbox=dict(fc='white', ec='none', pad=13))
ax.text(1938 / W, 1 - 1756 / H, r'r$_{\rm goce}$=0.59', transform=fig.transFigure, fontsize=34.5,
        family='Lato', va='baseline', ha='left', zorder=1)
tw = ax.twinx()
d, v = xy(champ_wind)
tw.plot(d, v, color=ORANGE, lw=3.6)
d, v = xy(goce_wind)
tw.plot(d, v, color=ORANGE, lw=3.6, ls=(0, (3.6, 2.6)))
tw.set_ylim(-20, 20)
tw.set_yticks([-20, -10, 0, 10, 20])
tw.yaxis.set_minor_locator(FixedLocator([-15, -5, 5, 15]))
tw.tick_params(axis='y', which='major', direction='out', length=23, width=2.9, colors=ORANGE,
               labelsize=29, pad=8)
tw.tick_params(axis='y', which='minor', direction='out', length=11.5, width=2.9, colors=ORANGE)
for s in ['left', 'top', 'bottom']:
    tw.spines[s].set_visible(False)
tw.spines['right'].set_color(ORANGE)
tw.spines['right'].set_linewidth(3.6)

# ---------------- texts ----------------
letter = dict(fontsize=57, family='Lato', va='baseline', ha='left')
put(162, 75, 'a.', **letter)
put(1932, 75, "a'.", **letter)
put(155, 535, 'b.', **letter)
put(1932, 535, "b'.", **letter)
put(161, 1080, 'c.', **letter)
put(157, 1657, 'd.', **letter)

put(1040, 83, 'OLR', fontsize=30.5, ha='center', va='baseline')
put(2195, 80, 'Periodogram', fontsize=29.5, ha='center', va='baseline')
put(1070, 548, 'TIME-GCM mean winds at 400 km', fontsize=30.3, ha='center', va='baseline')
put(2196, 540, 'Periodogram', fontsize=29.5, ha='center', va='baseline')
put(1233, 1082, 'OLR (blue) and TIME-GMC mean wind at 400 km (red)', fontsize=37,
    ha='center', va='baseline')
put(1236, 1659, 'OLR (blue), CHAMP (solid orange) and GOCE mean wind (dashed orange)',
    fontsize=37, ha='center', va='baseline')

put(84, 250, 'Radiation (kW/m^2)', fontsize=24.2, rotation=90, ha='center', va='center')
put(105, 715, 'Wind (m/s)', fontsize=24, rotation=90, ha='center', va='center')
put(1921, 249, 'Power', fontsize=23, rotation=90, ha='center', va='center')
put(1921, 723, 'Power', fontsize=23, rotation=90, ha='center', va='center')
put(2196, 930, 'Period (days)', fontsize=23.5, ha='center', va='baseline')
put(1040, 942, 'Time (days since 1 January 2009)', fontsize=24.3, ha='center', va='baseline')

put(64, 1288, 'Radiation (W/m^2)', fontsize=28.8, rotation=90, ha='center', va='center', color=BLUE)
put(64, 1865, 'Radiation (W/m^2)', fontsize=28.8, rotation=90, ha='center', va='center', color=BLUE)
put(2371, 1287, 'Wind (m/s)', fontsize=30, rotation=90, ha='left', va='center', color=RED)
put(2380, 1866, 'Wind (m/s)', fontsize=30, rotation=90, ha='left', va='center', color=ORANGE)
put(1234, 2146, 'Time (days since 1 January 2009)', fontsize=29, ha='center', va='baseline')

put(339, 1409, 'smoothed', fontsize=34.5, family='Lato', style='italic', ha='left', va='baseline')
put(339, 1989, 'smoothed', fontsize=34.5, family='Lato', style='italic', ha='left', va='baseline')

fig.savefig('out.png', dpi=100)
